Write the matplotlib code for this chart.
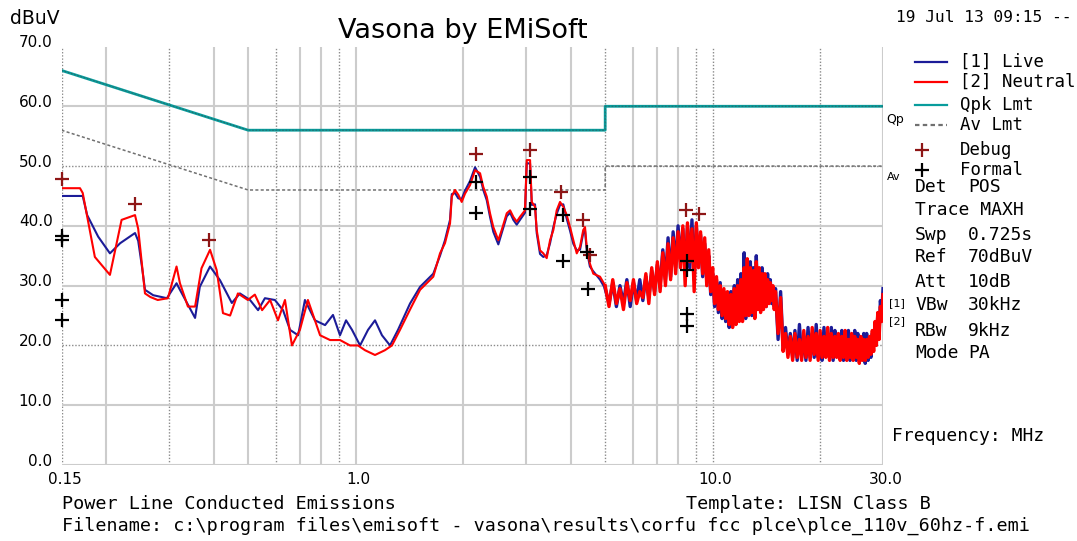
import matplotlib
matplotlib.use("Agg")
import matplotlib.pyplot as plt
from matplotlib.lines import Line2D

W, H = 1077, 541

# --- data --------------------------------------------------------------
# low band (0.15 - 4.8 MHz), frequencies in MHz, levels in dBuV
neutral_low_freq = [0.150, 0.169, 0.172, 0.186, 0.205, 0.221, 0.241, 0.246, 0.257, 0.266,
                    0.279, 0.298, 0.315, 0.322, 0.339, 0.355, 0.370, 0.391, 0.408, 0.425,
                    0.445, 0.468, 0.499, 0.522, 0.547, 0.576, 0.606, 0.634, 0.663, 0.698,
                    0.735, 0.769, 0.795, 0.848, 0.904, 0.964, 1.015, 1.062, 1.133, 1.208,
                    1.264, 1.331, 1.420, 1.515, 1.650, 1.723, 1.779, 1.838, 1.859, 1.898,
                    1.939, 1.982, 2.025, 2.091, 2.160, 2.231, 2.278, 2.329, 2.379, 2.430,
                    2.510, 2.565, 2.650, 2.708, 2.765, 2.826, 2.886, 2.981, 3.015, 3.080,
                    3.114, 3.180, 3.215, 3.284, 3.355, 3.429, 3.504, 3.579, 3.657, 3.736,
                    3.816, 3.901, 3.985, 4.071, 4.162, 4.251, 4.340, 4.390, 4.438, 4.530,
                    4.630, 4.836]
neutral_low = [46.3, 46.3, 45.5, 34.8, 31.8, 41.0, 41.8, 39.5, 28.7, 28.1,
               27.6, 27.9, 33.2, 30.4, 26.5, 26.5, 32.9, 36.0, 32.6, 25.4,
               25.0, 28.7, 27.6, 28.5, 25.9, 27.6, 24.2, 27.6, 20.0, 22.6,
               27.6, 24.2, 21.7, 20.9, 20.9, 20.0, 20.0, 19.2, 18.4, 19.2,
               20.0, 22.6, 26.0, 29.3, 31.5, 35.4, 37.1, 40.4, 44.9, 46.0,
               45.2, 44.0, 45.4, 46.8, 49.3, 48.8, 46.5, 44.9, 42.1, 39.8,
               37.6, 39.3, 42.1, 42.6, 41.5, 40.7, 41.5, 42.6, 51.0, 51.0,
               44.0, 43.2, 39.3, 35.9, 35.4, 34.6, 37.6, 39.3, 42.6, 44.0,
               43.2, 41.8, 39.8, 37.6, 35.4, 36.5, 39.3, 39.8, 36.5, 33.7,
               32.0, 31.5]

live_low_freq = [0.150, 0.172, 0.177, 0.190, 0.205, 0.219, 0.241, 0.246, 0.252, 0.257,
                 0.271, 0.296, 0.315, 0.322, 0.355, 0.366, 0.391, 0.417, 0.450, 0.474,
                 0.506, 0.533, 0.557, 0.594, 0.626, 0.655, 0.690, 0.721, 0.769, 0.821,
                 0.864, 0.904, 0.940, 0.977, 1.029, 1.083, 1.133, 1.185, 1.248, 1.314,
                 1.420, 1.515, 1.650, 1.723, 1.779, 1.838, 1.859, 1.898, 1.939, 1.982,
                 2.025, 2.091, 2.160, 2.231, 2.278, 2.329, 2.379, 2.430, 2.510, 2.565,
                 2.650, 2.708, 2.765, 2.826, 2.886, 2.981, 3.015, 3.080, 3.114, 3.180,
                 3.215, 3.284, 3.355, 3.429, 3.504, 3.579, 3.657, 3.736, 3.816, 3.901,
                 3.985, 4.071, 4.162, 4.251, 4.340, 4.390, 4.438, 4.530, 4.630, 4.836]
live_low = [45.0, 45.0, 41.8, 38.2, 35.4, 37.1, 38.8, 37.5, 33.2, 29.3,
            28.4, 27.9, 30.4, 29.3, 24.6, 29.8, 33.2, 30.9, 27.1, 28.7,
            27.6, 25.9, 27.9, 27.6, 25.9, 22.6, 21.7, 27.6, 24.2, 23.4,
            25.1, 21.7, 24.2, 22.6, 20.0, 22.6, 24.2, 21.7, 20.0, 22.6,
            27.0, 29.8, 32.0, 35.0, 37.6, 41.0, 45.3, 45.5, 44.6, 44.5,
            45.9, 47.5, 49.8, 48.2, 46.0, 44.3, 41.5, 39.0, 36.9, 38.8,
            41.6, 42.2, 41.0, 40.2, 41.0, 42.2, 50.5, 50.4, 43.5, 43.6,
            38.8, 35.3, 34.8, 35.1, 37.1, 39.8, 42.0, 43.5, 43.6, 41.2,
            39.2, 37.0, 35.9, 36.0, 38.8, 39.2, 36.0, 33.2, 32.4, 31.0]

# high band sweep (5 - 30 MHz), shared frequency points
sweep_freq = [5.0, 5.125, 5.25, 5.375, 5.5, 5.625, 5.75, 5.875,
              6.0, 6.125, 6.25, 6.375, 6.5, 6.625, 6.75, 6.875,
              7.0, 7.125, 7.25, 7.375, 7.5, 7.625, 7.75, 7.875,
              8.0, 8.125, 8.25, 8.375, 8.5, 8.625, 8.75, 8.875,
              9.0, 9.125, 9.25, 9.375, 9.5, 9.625, 9.75, 9.875,
              10.0, 10.125, 10.25, 10.375, 10.5, 10.625, 10.75, 10.875,
              11.0, 11.125, 11.25, 11.375, 11.5, 11.625, 11.75, 11.875,
              12.0, 12.125, 12.25, 12.375, 12.5, 12.625, 12.75, 12.875,
              13.0, 13.125, 13.25, 13.375, 13.5, 13.625, 13.75, 13.875,
              14.0, 14.125, 14.25, 14.375, 14.5, 14.625, 14.75, 14.875,
              15.0, 15.25, 15.5, 15.75, 16.0, 16.25, 16.5, 16.75, 17.0, 17.25, 17.5,
              17.75, 18.0, 18.25, 18.5, 18.75, 19.0, 19.25, 19.5, 19.75, 20.0, 20.25, 20.5,
              20.75, 21.0, 21.25, 21.5, 21.75, 22.0, 22.25, 22.5, 22.75, 23.0, 23.25, 23.5,
              23.75, 24.0, 24.25, 24.5, 24.75, 25.0, 25.25, 25.5, 25.75, 26.0, 26.25, 26.5,
              26.75, 27.0, 27.25, 27.5, 27.75, 28.0, 28.25, 28.5, 28.75, 29.0, 29.25, 29.5,
              29.75, 30.0]
neutral_sweep = [30, 26.5, 31, 27, 29.5, 26, 30.5, 27.5,
                 31, 27, 29, 28, 32, 27, 33, 28.5,
                 34, 29, 35.5, 30, 37, 31, 38, 32,
                 39, 33, 40, 30, 40.5, 34, 39.5, 29,
                 40.5, 33, 39, 32, 38, 30, 36, 29,
                 33, 27, 31.5, 26, 30, 25, 29.5, 24.5,
                 29, 23.5, 28.5, 23, 29.5, 23.5, 30, 24,
                 31, 24, 33, 25, 34.5, 25, 33, 25.5,
                 32.5, 24.5, 34, 26, 33, 25.5, 32, 26,
                 32, 26.5, 31, 27, 30.5, 27.5, 30, 26,
                 29, 22, 28, 19, 22, 18, 21.5, 17.5, 22, 18, 21, 17.5, 22.5,
                 18, 21.5, 17.5, 23, 18.5, 22, 17.5, 22.5, 18, 21.5, 18, 23, 17.5, 22, 18,
                 21.5, 18, 22, 17.5, 21.5, 18, 22.5, 17.5, 21, 18, 22, 17.5, 21.5, 18, 21,
                 17, 21.5, 17.5, 21, 17.5, 21, 18, 21.5, 18.5, 22.5, 19, 24, 20, 25.5, 21,
                 26.5, 24, 28.5]
live_sweep = [29.5, 27, 30.5, 26.5, 30, 27, 31, 26.5,
              30.5, 27.5, 31, 27.5, 31.5, 28, 32.5, 29,
              33.5, 30, 36, 31, 38, 31.5, 39, 33,
              40, 34, 39.5, 32, 40, 33, 41, 31,
              40, 34, 38.5, 31.5, 37, 31, 35, 28.5,
              32, 26.5, 31, 25.5, 30.5, 24.5, 29, 24,
              28, 23, 29, 23.5, 30, 24, 31, 24.5,
              32, 25, 35.5, 24.5, 33.5, 26, 34, 25,
              33, 25, 35, 26.5, 32, 26, 33, 26.5,
              31, 26.5, 32, 27.5, 31, 27, 29.5, 26.5,
              29.5, 21, 29, 19.5, 23, 18.5, 22, 18, 22.5, 17.5, 23.5, 18,
              21.5, 17.5, 23, 18, 22, 18, 23.5, 18, 21.5, 17.5, 23, 18.5, 22, 18, 23, 17.5,
              22.5, 18.5, 21, 18, 22.5, 17.5, 21.5, 18, 22.5, 17.5, 21, 18, 22.5, 17.5, 22,
              17.5, 20.5, 18, 22, 17, 22, 17.5, 20.5, 18, 22, 20, 23.5, 21, 25, 22, 27.5,
              25, 29.5]

# limit lines
qpk_freq = [0.15, 0.5, 5.0, 5.0, 30.0]
qpk_level = [66, 56, 56, 60, 60]
av_freq = [0.15, 0.5, 5.0, 5.0, 30.0]
av_level = [56, 46, 46, 50, 50]

# markers
debug_freq = [0.15, 0.241, 0.388, 2.18, 3.08, 3.76, 4.34, 4.53, 8.42, 9.18]
debug_level = [47.9, 43.6, 37.6, 52.1, 52.7, 45.7, 41.0, 35.1, 42.6, 41.9]
formal_freq = [0.15, 0.15, 0.15, 0.15, 2.18, 2.18, 3.08, 3.08, 3.82, 3.82, 4.44, 4.47,
               8.46, 8.46, 8.46, 8.46]
formal_level = [38.3, 37.6, 27.6, 24.2, 47.4, 42.1, 48.2, 42.9, 41.8, 34.1, 35.7, 29.4,
                34.2, 32.6, 25.2, 23.2]

grid_solid_x = [0.2, 0.4, 0.5, 0.7, 0.8, 1.0, 2.0, 3.0, 4.0, 6.0, 7.0, 8.0, 30.0]
grid_dotted_x = [0.15, 0.3, 0.6, 0.9, 5.0, 9.0, 10.0, 20.0]
grid_solid_y = [0, 10, 30, 40, 60]
grid_dotted_y = [20, 50]
y_ticks = [0, 10, 20, 30, 40, 50, 60, 70]
x_ticks = [0.15, 1.0, 10.0, 30.0]
x_tick_labels = ["0.15", "1.0", "10.0", "30.0"]

BLUE = "#1c1c98"
RED = "#ff0000"
TEAL = "#089c9c"
DARKRED = "#8e1616"
MONO = "DejaVu Sans Mono"


def px(x, y):
    return x / W, 1 - y / H


fig = plt.figure(figsize=(W / 100, H / 100), dpi=100)
ax = fig.add_axes([61.5 / W, 1 - 465 / H, (883 - 61.5) / W, (465 - 46.5) / H])
ax.set_xscale("log")
ax.set_xlim(0.15, 30)
ax.set_ylim(0, 70)
for s in ax.spines.values():
    s.set_visible(False)
ax.set_xticks([])
ax.set_yticks([])
ax.minorticks_off()

# grid
for f in grid_solid_x:
    ax.axvline(f, color="#cccccc", lw=1.5, zorder=0)
for f in grid_dotted_x:
    ax.axvline(f, color="#8a8a8a", lw=1.0, ls=(0, (1, 1.3)), zorder=0)
for v in grid_solid_y:
    ax.axhline(v, color="#cccccc", lw=1.5, zorder=0)
for v in grid_dotted_y:
    ax.axhline(v, color="#8a8a8a", lw=1.0, ls=(0, (1, 1.3)), zorder=0)

# limits
ax.plot(qpk_freq, qpk_level, color=TEAL, lw=2.0, zorder=2)
ax.plot(qpk_freq, qpk_level, color="#2f5f5f", lw=0.6, ls=(0, (2, 2)), zorder=2)
ax.plot(av_freq, av_level, color="#707070", lw=1.1, ls=(0, (2, 1.5)), zorder=2)

# traces: low band thin, dense sweep drawn heavier so it fills like the analyser plot
ax.plot(live_low_freq + sweep_freq[:1], live_low + live_sweep[:1], color=BLUE, lw=1.5,
        zorder=3)
ax.plot(sweep_freq, live_sweep, color=BLUE, lw=2.4, zorder=3)
ax.plot(neutral_low_freq + sweep_freq[:1], neutral_low + neutral_sweep[:1], color=RED,
        lw=1.5, zorder=4)
ax.plot(sweep_freq, neutral_sweep, color=RED, lw=2.4, zorder=4)

# markers
ax.plot(debug_freq, debug_level, ls="none", marker="+", ms=10, mew=1.6, color=DARKRED,
        zorder=5, clip_on=False)
ax.plot(formal_freq, formal_level, ls="none", marker="+", ms=10, mew=1.6, color="black",
        zorder=6, clip_on=False)

# tick labels
for v in y_ticks:
    ax.annotate(f"{v:.1f}", (0.15, v), xytext=(-9, 4), textcoords="offset pixels",
                ha="right", va="center", fontsize=11, annotation_clip=False)
for f, lab in zip(x_ticks, x_tick_labels):
    ax.annotate(lab, (f, 0), xytext=(3, -14), textcoords="offset pixels",
                ha="center", va="center", fontsize=11, annotation_clip=False)

# header
fig.text(*px(463, 31), "Vasona by EMiSoft", ha="center", va="center", fontsize=19.5)
fig.text(*px(10, 18), "dBuV", ha="left", va="center", fontsize=13.5)
fig.text(*px(1072, 17), "19 Jul 13 09:15 --", ha="right", va="center", fontsize=11.7,
         family=MONO)

# legend
legend_rows = [("[1] Live", 61.5, "line", BLUE, "-"),
               ("[2] Neutral", 82, "line", RED, "-"),
               ("Qpk Lmt", 105, "line", TEAL, "-"),
               ("Av Lmt", 125.5, "line", "#707070", (0, (2, 1.5))),
               ("Debug", 150, "mark", DARKRED, None),
               ("Formal", 170, "mark", "black", None)]
for label, y, kind, col, ls in legend_rows:
    x0, yy = px(915, y)
    x1, _ = px(947, y)
    if kind == "line":
        fig.add_artist(Line2D([x0, x1], [yy, yy], color=col, lw=1.6, ls=ls))
    else:
        fig.add_artist(Line2D([px(922, y)[0]], [yy], ls="none", marker="+", ms=10,
                              mew=1.6, color=col))
    fig.text(*px(960, y), label, ha="left", va="center", fontsize=12.5, family=MONO)

fig.text(*px(886, 120), "Qp", ha="left", va="center", fontsize=9)
fig.text(*px(887, 177), "Av", ha="left", va="center", fontsize=8)

settings = [("Det", "POS", 187), ("Trace", "MAXH", 210), ("Swp", "0.725s", 235),
            ("Ref", "70dBuV", 257), ("Att", "10dB", 282), ("VBw", "30kHz", 305),
            ("RBw", "9kHz", 331), ("Mode", "PA", 353)]
for name, val, y in settings:
    if name == "Trace":
        fig.text(*px(915, y), name + " " + val, ha="left", va="center", fontsize=13,
                 family=MONO)
    else:
        fig.text(*px(915, y), name, ha="left", va="center", fontsize=13, family=MONO)
        fig.text(*px(968, y), val, ha="left", va="center", fontsize=13, family=MONO)
fig.text(*px(889, 303), "[1]", ha="left", va="center", fontsize=8)
fig.text(*px(889, 321), "[2]", ha="left", va="center", fontsize=8)

fig.text(*px(892, 436), "Frequency: MHz", ha="left", va="center", fontsize=13, family=MONO)

# footer
fig.text(*px(62, 504), "Power Line Conducted Emissions", ha="left", va="center",
         fontsize=13.3, family=MONO)
fig.text(*px(686, 504), "Template: LISN Class B", ha="left", va="center", fontsize=13.3,
         family=MONO)
fig.text(*px(62, 526),
         "Filename: c:\\program files\\emisoft - vasona\\results\\corfu fcc plce\\plce_110v_60hz-f.emi",
         ha="left", va="center", fontsize=13.2, family=MONO)

fig.savefig("out.png", dpi=100)
